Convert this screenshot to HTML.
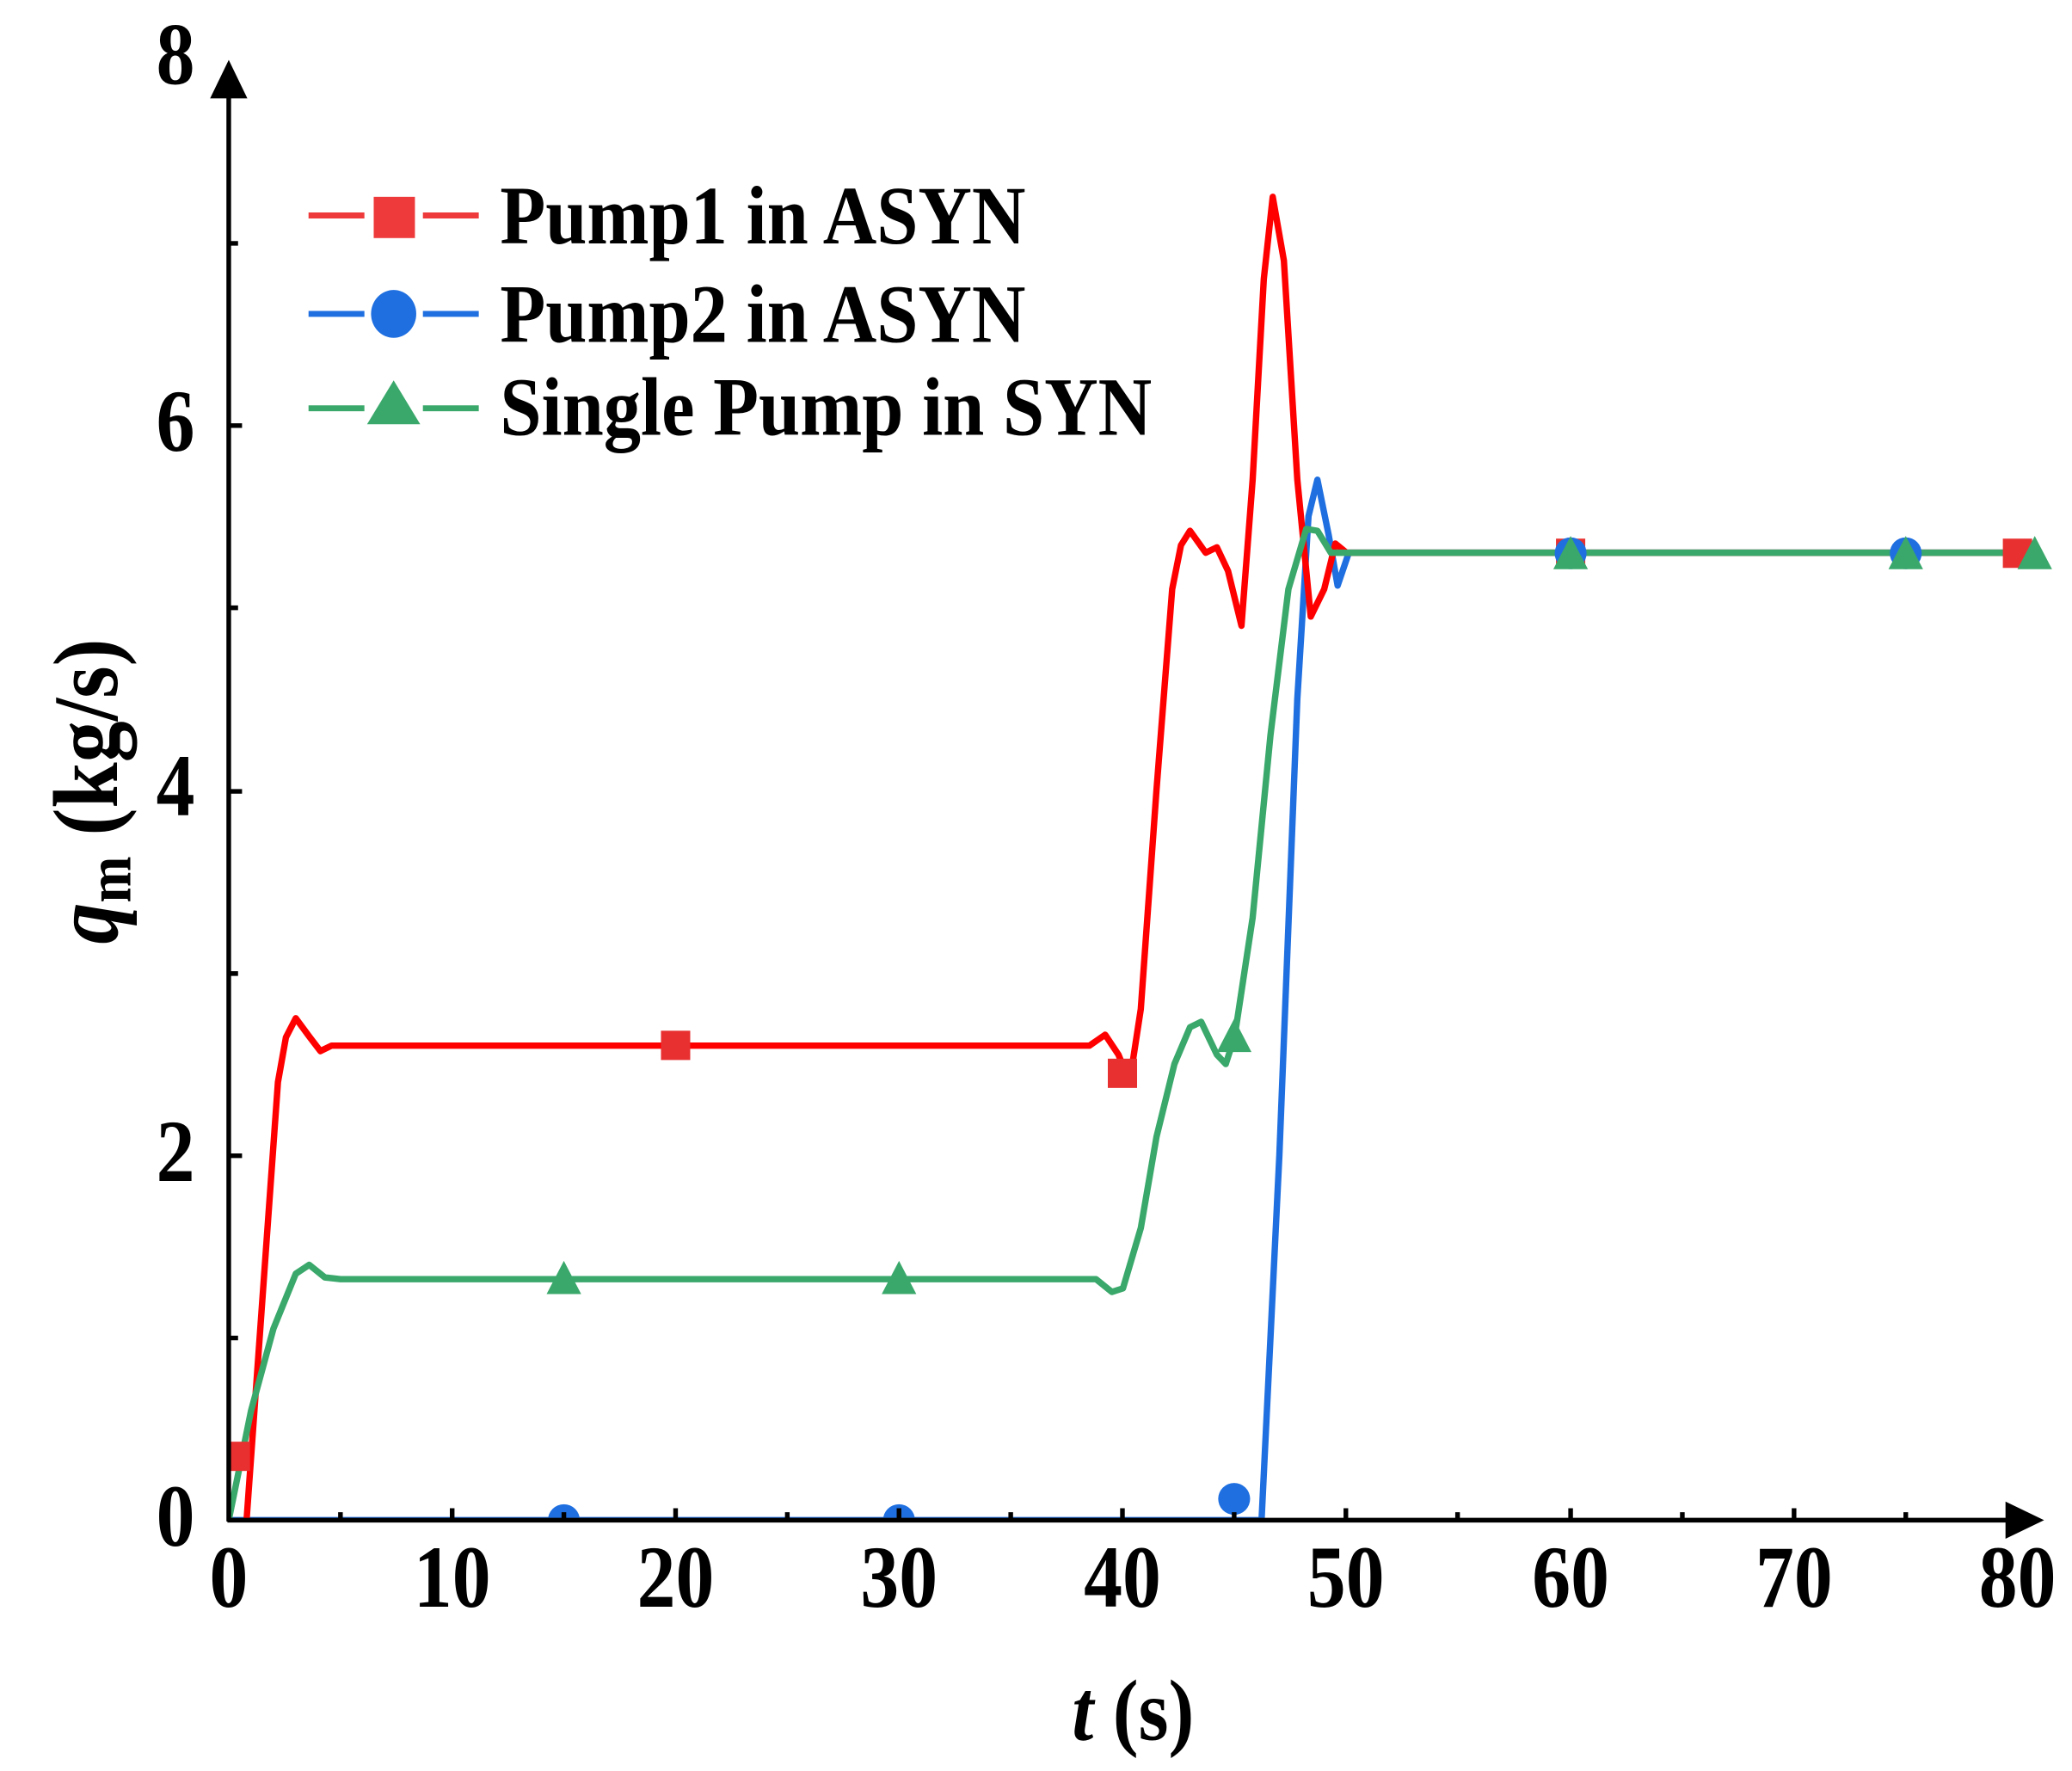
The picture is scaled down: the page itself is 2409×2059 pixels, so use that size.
<!DOCTYPE html>
<html><head><meta charset="utf-8"><style>html,body{margin:0;padding:0;background:#fff}svg{display:block}</style></head>
<body>
<svg width="2409" height="2059" viewBox="0 0 1558 1331.6" preserveAspectRatio="none" xmlns="http://www.w3.org/2000/svg" font-family="'Liberation Serif', serif" font-weight="bold">
<defs><clipPath id="c"><rect x="172" y="0" width="1400" height="1143"/></clipPath></defs>
<g clip-path="url(#c)" fill="none" stroke-width="4.8" stroke-linejoin="round">
<polyline stroke="#1f6fe0" points="172,1143 948.6,1143 962,868.5 975.5,525.4 983.9,388.1 990.6,360.7 999,401.9 1005.8,440.3 1014.2,415.6 1517,415.6"/>
<polyline stroke="#ff0000" points="185.4,1143 197.2,978.3 209,813.6 215,780 222.4,765.6 232.5,779.3 240.9,790.3 249.3,786.2 819.2,786.2 831,778 841,793 849.4,813.6 857.8,758.7 869.6,594 881.4,443 888,410 894.8,399.1 906.6,415.6 915,411.5 923.4,429.3 933.5,470.5 941.9,360.7 950.3,209.7 957,148 965.4,196 975.5,360.7 985.6,463.6 995.7,443 1004.1,408.7 1012.5,415.6 1517,415.6"/>
<polyline stroke="#3aa86b" points="172,1143 188.8,1060.6 205.6,999 222.4,957.7 232.5,951 244.3,960.5 256,961.8 824.2,961.8 836,971.4 844.4,968.7 857.8,923.4 869.6,854.8 883.1,800 894.8,772.4 903.2,768.3 915,793 921.7,800 928.4,779.3 941.9,690 955.3,552.8 968.8,443 982.2,397.7 990.6,399.1 1000.7,415.6 1530,415.6"/>
<g stroke="none">
<rect x="166" y="1084" width="22" height="22" fill="#e83030"/>
<rect x="497" y="775" width="22" height="22" fill="#e83030"/>
<rect x="833" y="796" width="22" height="22" fill="#e83030"/>
<rect x="1170" y="405" width="22" height="22" fill="#e83030"/>
<rect x="1506" y="405" width="22" height="22" fill="#e83030"/>
<circle cx="424" cy="1143" r="12" fill="#1f6fe0"/>
<circle cx="676" cy="1143" r="12" fill="#1f6fe0"/>
<circle cx="928" cy="1127" r="12" fill="#1f6fe0"/>
<circle cx="1181" cy="416" r="12" fill="#1f6fe0"/>
<circle cx="1433" cy="416" r="12" fill="#1f6fe0"/>
<polygon points="424,948 411,973 437,973" fill="#3aa86b"/>
<polygon points="676,948 663,973 689,973" fill="#3aa86b"/>
<polygon points="928,766 915,791 941,791" fill="#3aa86b"/>
<polygon points="1181,403 1168,428 1194,428" fill="#3aa86b"/>
<polygon points="1433,403 1420,428 1446,428" fill="#3aa86b"/>
<polygon points="1530,403 1517,428 1543,428" fill="#3aa86b"/>
</g></g>
<g stroke="#000" stroke-width="3.5" fill="none">
<line x1="172" y1="1144" x2="172" y2="65"/>
<line x1="171" y1="1143" x2="1512" y2="1143"/>
<path d="M182,320h-10 M182,595h-10 M182,869h-10 M179,183h-7 M179,457h-7 M179,732h-7 M179,1006h-7"/>
<path d="M340,1143v-9 M508,1143v-9 M676,1143v-9 M844,1143v-9 M1012,1143v-9 M1181,1143v-9 M1349,1143v-9 M256,1143v-6 M424,1143v-6 M592,1143v-6 M760,1143v-6 M928,1143v-6 M1096,1143v-6 M1265,1143v-6 M1433,1143v-6"/>
</g>
<polygon points="172,45 158,74 186,74" fill="#000"/>
<polygon points="1537,1143 1508,1129 1508,1157" fill="#000"/>
<g font-size="58" text-anchor="middle">
<text transform="translate(132,63) scale(1,1.15)">8</text>
<text transform="translate(132,339) scale(1,1.15)">6</text>
<text transform="translate(132,613) scale(1,1.15)">4</text>
<text transform="translate(132,888) scale(1,1.15)">2</text>
<text transform="translate(132,1162) scale(1,1.15)">0</text>
<text transform="translate(172,1208) scale(1,1.15)">0</text>
<text transform="translate(340,1208) scale(1,1.15)">10</text>
<text transform="translate(508,1208) scale(1,1.15)">20</text>
<text transform="translate(676,1208) scale(1,1.15)">30</text>
<text transform="translate(844,1208) scale(1,1.15)">40</text>
<text transform="translate(1012,1208) scale(1,1.15)">50</text>
<text transform="translate(1181,1208) scale(1,1.15)">60</text>
<text transform="translate(1349,1208) scale(1,1.15)">70</text>
<text transform="translate(1517,1208) scale(1,1.15)">80</text>
</g>
<text transform="translate(852,1308) scale(1,1.12)" font-size="58" text-anchor="middle"><tspan font-style="italic">t</tspan> (s)</text>
<text transform="translate(88,595) rotate(-90) scale(1,1.12)" font-size="62" text-anchor="middle"><tspan font-style="italic">q</tspan><tspan font-size="42" dy="9">m</tspan><tspan dy="-9"> (kg/s)</tspan></text>
<g stroke-width="4.5" fill="none">
<path d="M232,162h42 M318,162h42" stroke="#ee3a3a"/>
<path d="M232,236h42 M318,236h42" stroke="#1f6fe0"/>
<path d="M232,307h42 M318,307h42" stroke="#3aa86b"/>
</g>
<rect x="281" y="148" width="31" height="31" fill="#ee3a3a"/>
<ellipse cx="296" cy="236" rx="17" ry="18" fill="#1f6fe0"/>
<polygon points="296,286 276,319 316,319" fill="#3aa86b"/>
<g font-size="56">
<text transform="translate(376,183) scale(1,1.12)">Pump1 in ASYN</text>
<text transform="translate(376,257) scale(1,1.12)">Pump2 in ASYN</text>
<text transform="translate(376,327) scale(1,1.12)">Single Pump in SYN</text>
</g>
</svg>
</body></html>
